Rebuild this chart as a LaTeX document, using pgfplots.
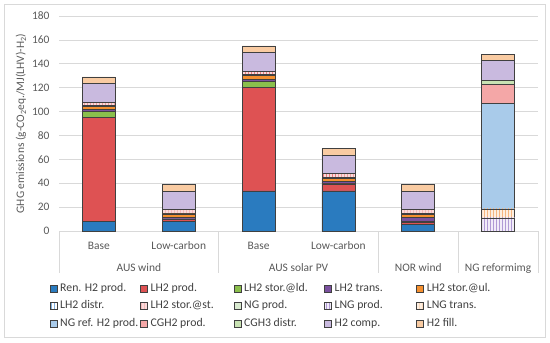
\documentclass[border=0pt]{standalone}
\usepackage{fontspec}
\setmainfont{Carlito}
\usepackage{pgfplots}
\pgfplotsset{compat=1.18}
\usetikzlibrary{patterns}

\definecolor{cRen}{HTML}{2A7BBF}
\definecolor{cLHp}{HTML}{DE5253}
\definecolor{cLd}{HTML}{8BBF4C}
\definecolor{cTr}{HTML}{7B519F}
\definecolor{cUl}{HTML}{F5902F}
\definecolor{cDi}{HTML}{7FAEDD}
\definecolor{cSt}{HTML}{E97F7F}
\definecolor{cStF}{HTML}{FADADA}
\definecolor{cNGp}{HTML}{D9EAD0}
\definecolor{cLNGp}{HTML}{B09AD4}
\definecolor{cLNGpF}{HTML}{F1ECF8}
\definecolor{cLNGt}{HTML}{F5B680}
\definecolor{cLNGtF}{HTML}{FDEEE0}
\definecolor{cNGr}{HTML}{A9CBEA}
\definecolor{cCG}{HTML}{F4A7A7}
\definecolor{cCGt}{HTML}{C8E2B3}
\definecolor{cComp}{HTML}{C9BADF}
\definecolor{cFill}{HTML}{F9CBA2}
\definecolor{edgec}{HTML}{404040}
\definecolor{gridc}{HTML}{D9D9D9}
\definecolor{txtc}{HTML}{595959}

\newcommand{\lgd}[2]{\makebox[#1][l]{\hspace{3bp}#2}}

\pgfplotsset{
  mybar/.style={draw=edgec, line width=0.6bp,
    legend image code/.code={\draw[##1, line width=0.5bp] (0bp,-3.5bp) rectangle (7bp,3.5bp);}},
}

\begin{document}
\begin{tikzpicture}[x=1bp,y=1bp]
\path (0,0) rectangle (550,342);
\draw[color=gridc, line width=0.75bp] (4.5,4.5) rectangle (545.5,337.5);
\begin{axis}[
  at={(59bp,111bp)}, anchor=south west,
  scale only axis, width=479bp, height=215bp,
  ymin=0, ymax=180, ytick={0,20,...,180},
  xmin=-0.5, xmax=5.5, xtick=\empty,
  ybar stacked, bar width=33bp,
  axis x line*=bottom, axis y line*=left,
  x axis line style={color=gridc, line width=0.75bp},
  y axis line style={draw=none},
  ymajorgrids, grid style={color=gridc, line width=0.75bp},
  major tick length=0,
  tick label style={font=\fontsize{11.5}{13}\selectfont, color=txtc},
  yticklabel style={xshift=-6bp},
  /pgf/number format/assume math mode=true,
  ylabel={GHG emissions (g-CO\textsubscript{2}eq./MJ(LHV)-H\textsubscript{2})},
  ylabel style={font=\fontsize{11.5}{13}\selectfont, color=txtc, at={(axis description cs:-0.0793,0.5)}, anchor=center},
  clip=false,
  legend columns=5,
  legend style={at={(axis description cs:-0.0198,-0.243)}, anchor=north west,
    draw=none, fill=none, inner sep=0pt, column sep=0pt, row sep=6.8bp,
    font=\fontsize{11.8}{13}\selectfont, text=edgec,
    nodes={inner sep=0pt, text height=8bp, text depth=2.5bp}},
]
\addplot[mybar, fill=cRen] coordinates {(0,8) (1,8) (2,33.5) (3,33.5) (4,5.5) (5,0)};
\addlegendentry{\lgd{83bp}{Ren. H2 prod.}}
\addplot[mybar, fill=cLHp] coordinates {(0,87) (1,1.8) (2,87) (3,6) (4,2) (5,0)};
\addlegendentry{\lgd{86bp}{LH2 prod.}}
\addplot[mybar, fill=cLd] coordinates {(0,5) (1,0.3) (2,5) (3,0.3) (4,0.3) (5,0)};
\addlegendentry{\lgd{83bp}{LH2 stor.@ld.}}
\addplot[mybar, fill=cTr] coordinates {(0,1.5) (1,1.5) (2,1.5) (3,1.5) (4,3.5) (5,0)};
\addlegendentry{\lgd{84.6bp}{LH2 trans.}}
\addplot[mybar, fill=cUl] coordinates {(0,2.5) (1,2.8) (2,3) (3,3) (4,2.7) (5,0)};
\addlegendentry{\lgd{80bp}{LH2 stor.@ul.}}
\addplot[mybar, fill=white, postaction={pattern=vertical lines, pattern color=cDi}] coordinates {(0,1) (1,0.6) (2,1) (3,0.7) (4,0.8) (5,0)};
\addlegendentry{\lgd{83bp}{LH2 distr.}}
\addplot[mybar, fill=cStF, postaction={pattern=vertical lines, pattern color=cSt}] coordinates {(0,2.5) (1,3) (2,2.5) (3,3) (4,3) (5,0)};
\addlegendentry{\lgd{86bp}{LH2 stor.@st.}}
\addplot[mybar, fill=cNGp] coordinates {(0,0) (1,0) (2,0) (3,0) (4,0) (5,0)};
\addlegendentry{\lgd{83bp}{NG prod.}}
\addplot[mybar, fill=cLNGpF, postaction={pattern=vertical lines, pattern color=cLNGp}] coordinates {(0,0) (1,0) (2,0) (3,0) (4,0) (5,11)};
\addlegendentry{\lgd{84.6bp}{LNG prod.}}
\addplot[mybar, fill=cLNGtF, postaction={pattern=vertical lines, pattern color=cLNGt}] coordinates {(0,0) (1,0) (2,0) (3,0) (4,0) (5,7.5)};
\addlegendentry{\lgd{80bp}{LNG trans.}}
\addplot[mybar, fill=cNGr] coordinates {(0,0) (1,0) (2,0) (3,0) (4,0) (5,88.5)};
\addlegendentry{\lgd{83bp}{NG ref. H2 prod.}}
\addplot[mybar, fill=cCG] coordinates {(0,0) (1,0) (2,0) (3,0) (4,0) (5,15.5)};
\addlegendentry{\lgd{86bp}{CGH2 prod.}}
\addplot[mybar, fill=cCGt] coordinates {(0,0) (1,0) (2,0) (3,0) (4,0) (5,4)};
\addlegendentry{\lgd{83bp}{CGH3 distr.}}
\addplot[mybar, fill=cComp] coordinates {(0,16) (1,15.3) (2,16) (3,15.5) (4,15.5) (5,16)};
\addlegendentry{\lgd{84.6bp}{H2 comp.}}
\addplot[mybar, fill=cFill] coordinates {(0,5.5) (1,5.7) (2,5.5) (3,5.5) (4,5.5) (5,5.5)};
\addlegendentry{\lgd{80bp}{H2 fill.}}

\draw[color=gridc, line width=0.75bp] (axis cs:-0.5,0) -- ++(0bp,-42bp);
\draw[color=gridc, line width=0.75bp] (axis cs:1.5,0) -- ++(0bp,-42bp);
\draw[color=gridc, line width=0.75bp] (axis cs:3.5,0) -- ++(0bp,-42bp);
\draw[color=gridc, line width=0.75bp] (axis cs:4.5,0) -- ++(0bp,-42bp);
\draw[color=gridc, line width=0.75bp] (axis cs:5.5,0) -- ++(0bp,-42bp);
\node[font=\fontsize{11.5}{13}\selectfont, text=txtc, anchor=base, inner sep=0pt, yshift=-18.7bp] at (axis cs:0,0) {Base};
\node[font=\fontsize{11.5}{13}\selectfont, text=txtc, anchor=base, inner sep=0pt, yshift=-18.7bp] at (axis cs:1,0) {Low-carbon};
\node[font=\fontsize{11.5}{13}\selectfont, text=txtc, anchor=base, inner sep=0pt, yshift=-18.7bp] at (axis cs:2,0) {Base};
\node[font=\fontsize{11.5}{13}\selectfont, text=txtc, anchor=base, inner sep=0pt, yshift=-18.7bp] at (axis cs:3,0) {Low-carbon};
\node[font=\fontsize{11.5}{13}\selectfont, text=txtc, anchor=base, inner sep=0pt, yshift=-40.7bp] at (axis cs:0.5,0) {AUS wind};
\node[font=\fontsize{11.5}{13}\selectfont, text=txtc, anchor=base, inner sep=0pt, yshift=-40.7bp] at (axis cs:2.5,0) {AUS solar PV};
\node[font=\fontsize{11.5}{13}\selectfont, text=txtc, anchor=base, inner sep=0pt, yshift=-40.7bp] at (axis cs:4,0) {NOR wind};
\node[font=\fontsize{11.5}{13}\selectfont, text=txtc, anchor=base, inner sep=0pt, yshift=-40.7bp] at (axis cs:5,0) {NG reformimg};
\end{axis}
\end{tikzpicture}
\end{document}
